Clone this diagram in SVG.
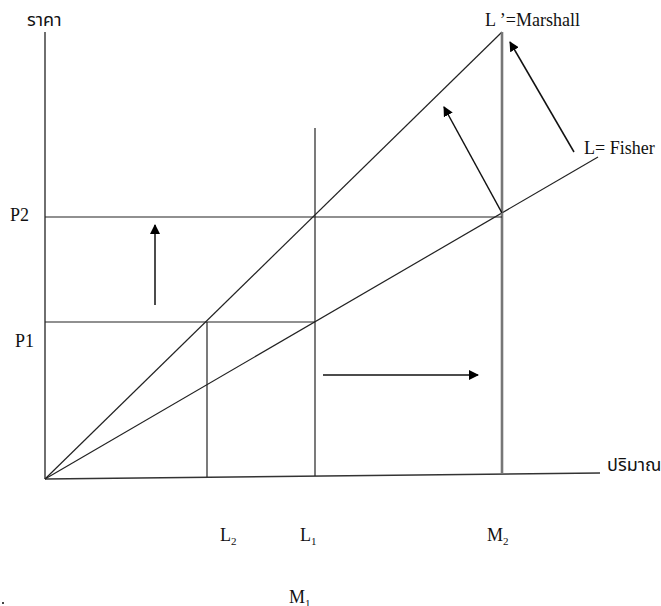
<svg xmlns="http://www.w3.org/2000/svg" width="661" height="606" viewBox="0 0 661 606">
<style>
.ln{stroke:#222;stroke-width:1.2;fill:none}
.ax{stroke:#333;stroke-width:1.4;fill:none}
.m2{stroke:#777;stroke-width:2.6;fill:none}
.ar{stroke:#111;stroke-width:1.5;fill:none;marker-end:url(#ah)}
.t{font-family:"Liberation Serif","Times New Roman",serif;font-size:18px;fill:#111}
.th{font-family:"Noto Sans Thai","Noto Sans","DejaVu Sans",sans-serif;font-size:18px;fill:#111}
</style>
<defs>
<marker id="ah" markerWidth="10" markerHeight="10" refX="9" refY="5" orient="auto" markerUnits="userSpaceOnUse">
<path d="M0,0 L10,5 L0,10 Z" fill="#000"/>
</marker>
</defs>
<rect width="661" height="606" fill="#fff"/>
<g id="axes">
<line class="ax" x1="45" y1="32" x2="45" y2="479"/>
<line class="ax" x1="45" y1="479" x2="600" y2="473"/>
</g>
<g id="connectors">
<line class="ln" x1="45" y1="479" x2="502" y2="32"/>
<line class="ln" x1="45" y1="479" x2="598" y2="157"/>
<line class="m2" x1="502" y1="32" x2="502" y2="474"/>
<line class="ln" x1="315" y1="128" x2="315" y2="476"/>
<line class="ln" x1="207" y1="322" x2="207" y2="477"/>
<line class="ln" x1="45" y1="217" x2="502" y2="217"/>
<line class="ln" x1="45" y1="322" x2="315" y2="322"/>
<line class="ar" x1="155" y1="305" x2="155" y2="225"/>
<line class="ar" x1="323" y1="375" x2="478" y2="375"/>
<line class="ar" x1="502" y1="213" x2="444" y2="107"/>
<line class="ar" x1="574" y1="152" x2="510" y2="42"/>
</g>
<g id="labels">
<text class="th" x="27" y="26">ราคา</text>
<text class="th" x="607" y="471">ปริมาณ</text>
<text class="t" x="485" y="26">L ’=Marshall</text>
<text class="t" x="584" y="154">L= Fisher</text>
<text class="t" x="10" y="221">P2</text>
<text class="t" x="15" y="347">P1</text>
<text class="t" x="220" y="541">L<tspan font-size="11" dy="4">2</tspan></text>
<text class="t" x="300" y="541">L<tspan font-size="11" dy="4">1</tspan></text>
<text class="t" x="487" y="541">M<tspan font-size="11" dy="4">2</tspan></text>
<text class="t" x="289" y="603">M<tspan font-size="11" dy="4">1</tspan></text>
<rect x="2" y="602" width="2" height="2" fill="#444"/>
</g>
</svg>
